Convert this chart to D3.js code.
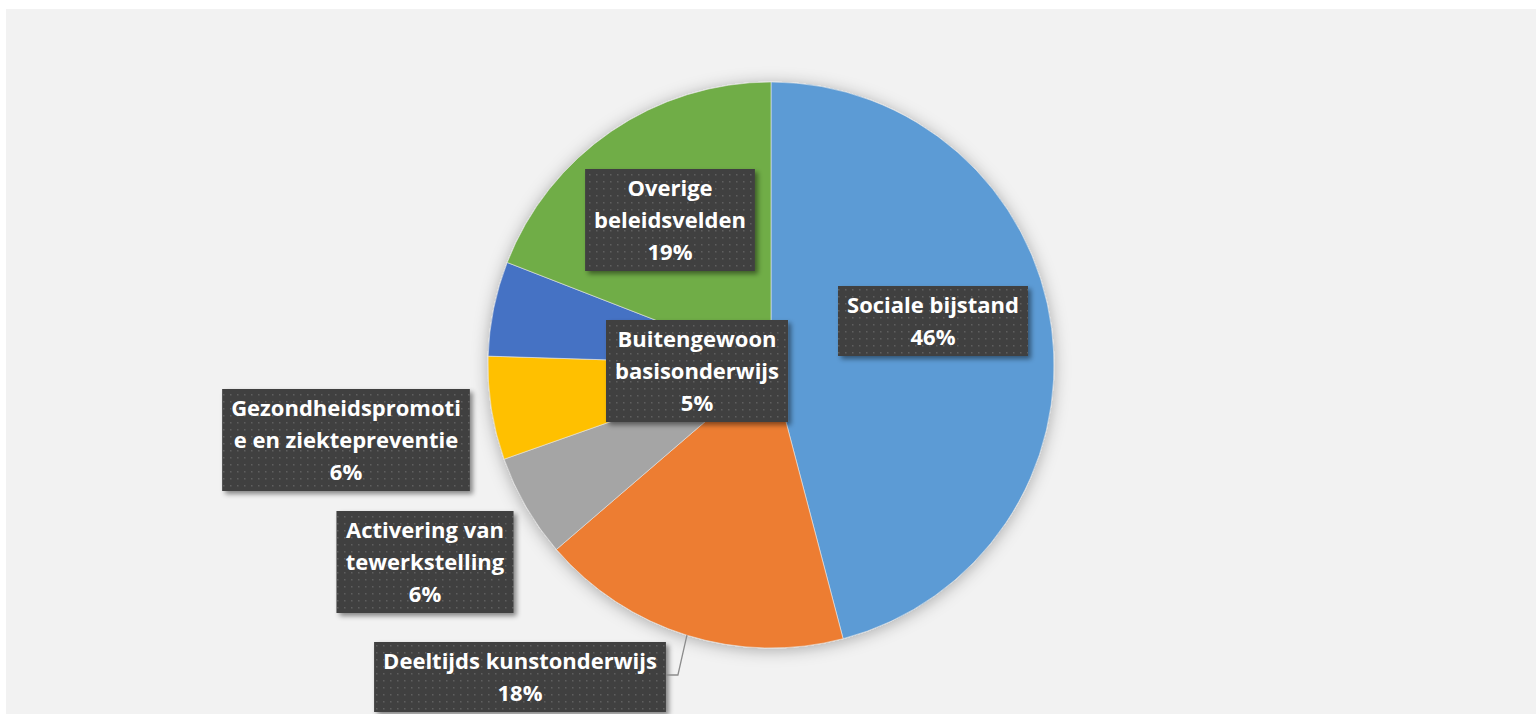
<!DOCTYPE html>
<html>
<head>
<meta charset="utf-8">
<script src="https://cdn.jsdelivr.net/npm/d3@7"></script>
<style>
  body { margin: 0; background: #ffffff; }
  svg { display: block; }
</style>
</head>
<body>
<svg></svg>
<script>
// Data
const categories = [
  "Sociale bijstand",
  "Deeltijds kunstonderwijs",
  "Activering van tewerkstelling",
  "Gezondheidspromotie en ziektepreventie",
  "Buitengewoon basisonderwijs",
  "Overige beleidsvelden"
];
const values = [45.9, 17.8, 5.9, 5.9, 5.4, 19.1];
// label text as wrapped in the chart
const labelLines = [
  ["Sociale bijstand"],
  ["Deeltijds kunstonderwijs"],
  ["Activering van", "tewerkstelling"],
  ["Gezondheidspromoti", "e en ziektepreventie"],
  ["Buitengewoon", "basisonderwijs"],
  ["Overige", "beleidsvelden"]
];
const colors = ["#5b9bd5", "#ed7d31", "#a5a5a5", "#ffc000", "#4472c4", "#70ad47"];

// Layout
const W = 1538, H = 714;
const cx = 771, cy = 365, radius = 283;
const lineH = 32;
// label box centres relative to pie centre
const labelPos = [[162, -44], [-251, 312], [-346, 197], [-425, 75], [-74, 6], [-101, -145]];
const leader = [false, true, false, false, false, false];

const data = categories.map((c, i) => ({ name: c, value: values[i], lines: labelLines[i], i }));
const total = d3.sum(values);

const svg = d3.select("svg").attr("width", W).attr("height", H);
const defs = svg.append("defs");

const glow = defs.append("filter").attr("id", "glow")
  .attr("x", "-20%").attr("y", "-20%").attr("width", "140%").attr("height", "140%");
glow.append("feDropShadow").attr("dx", 0).attr("dy", 2).attr("stdDeviation", 8)
  .attr("flood-color", "#000").attr("flood-opacity", 0.3);

const boxShadow = defs.append("filter").attr("id", "boxShadow")
  .attr("x", "-20%").attr("y", "-30%").attr("width", "140%").attr("height", "160%");
boxShadow.append("feDropShadow").attr("dx", 3).attr("dy", 3).attr("stdDeviation", 2.5)
  .attr("flood-color", "#000").attr("flood-opacity", 0.45);

const pat = defs.append("pattern").attr("id", "dots")
  .attr("width", 7).attr("height", 7).attr("patternUnits", "userSpaceOnUse");
pat.append("rect").attr("width", 7).attr("height", 7).attr("fill", "#404040");
pat.append("rect").attr("x", 3).attr("y", 3).attr("width", 1.5).attr("height", 1.5).attr("fill", "#5e5e5e");

// chart area background
svg.append("rect").attr("x", 6).attr("y", 9).attr("width", W - 8).attr("height", H - 9)
  .attr("fill", "#f2f2f2");

const pie = d3.pie().value(d => d.value).sort(null);
const arc = d3.arc().innerRadius(0).outerRadius(radius);
const arcs = pie(data);

const g = svg.append("g").attr("transform", `translate(${cx},${cy})`);

g.append("g").attr("filter", "url(#glow)")
  .selectAll("path")
  .data(arcs)
  .enter()
  .append("path")
  .attr("d", arc)
  .attr("fill", d => colors[d.data.i])
  .attr("stroke", "#e8e8e8")
  .attr("stroke-width", 0.6);

// leader lines go to the arc at the slice's middle angle
const outerArc = d3.arc().innerRadius(radius).outerRadius(radius);

const labels = g.selectAll(".lbl")
  .data(arcs)
  .enter()
  .append("g")
  .attr("class", "lbl")
  .attr("transform", d => `translate(${labelPos[d.data.i][0]},${labelPos[d.data.i][1]})`);

labels.each(function (d) {
  const sel = d3.select(this);
  const lines = d.data.lines.concat([Math.round(d.data.value / total * 100) + "%"]);
  const n = lines.length;
  const text = sel.append("text")
    .attr("text-anchor", "middle")
    .attr("fill", "#ffffff")
    .attr("font-family", "'Open Sans', sans-serif")
    .attr("font-weight", 700)
    .attr("font-size", "22px");
  lines.forEach((t, k) => {
    text.append("tspan")
      .attr("x", 0)
      .attr("y", (k - (n - 1) / 2) * lineH + 8)
      .text(t);
  });
  const tw = text.node().getBBox().width;
  const bw = tw + 18, bh = n * lineH + 6;
  sel.insert("rect", "text")
    .attr("x", -bw / 2).attr("y", -bh / 2)
    .attr("width", bw).attr("height", bh)
    .attr("fill", "url(#dots)")
    .attr("filter", "url(#boxShadow)");
  if (leader[d.data.i]) {
    const [ex, ey] = outerArc.centroid(d);
    const [lx, ly] = labelPos[d.data.i];
    const sx = lx + bw / 2, sy = ly - 2;
    g.append("polyline")
      .attr("points", [[sx, sy], [sx + 12, sy], [ex, ey]].map(p => p.join(",")).join(" "))
      .attr("fill", "none")
      .attr("stroke", "#8c8c8c")
      .attr("stroke-width", 1.3);
  }
});
</script>
</body>
</html>
